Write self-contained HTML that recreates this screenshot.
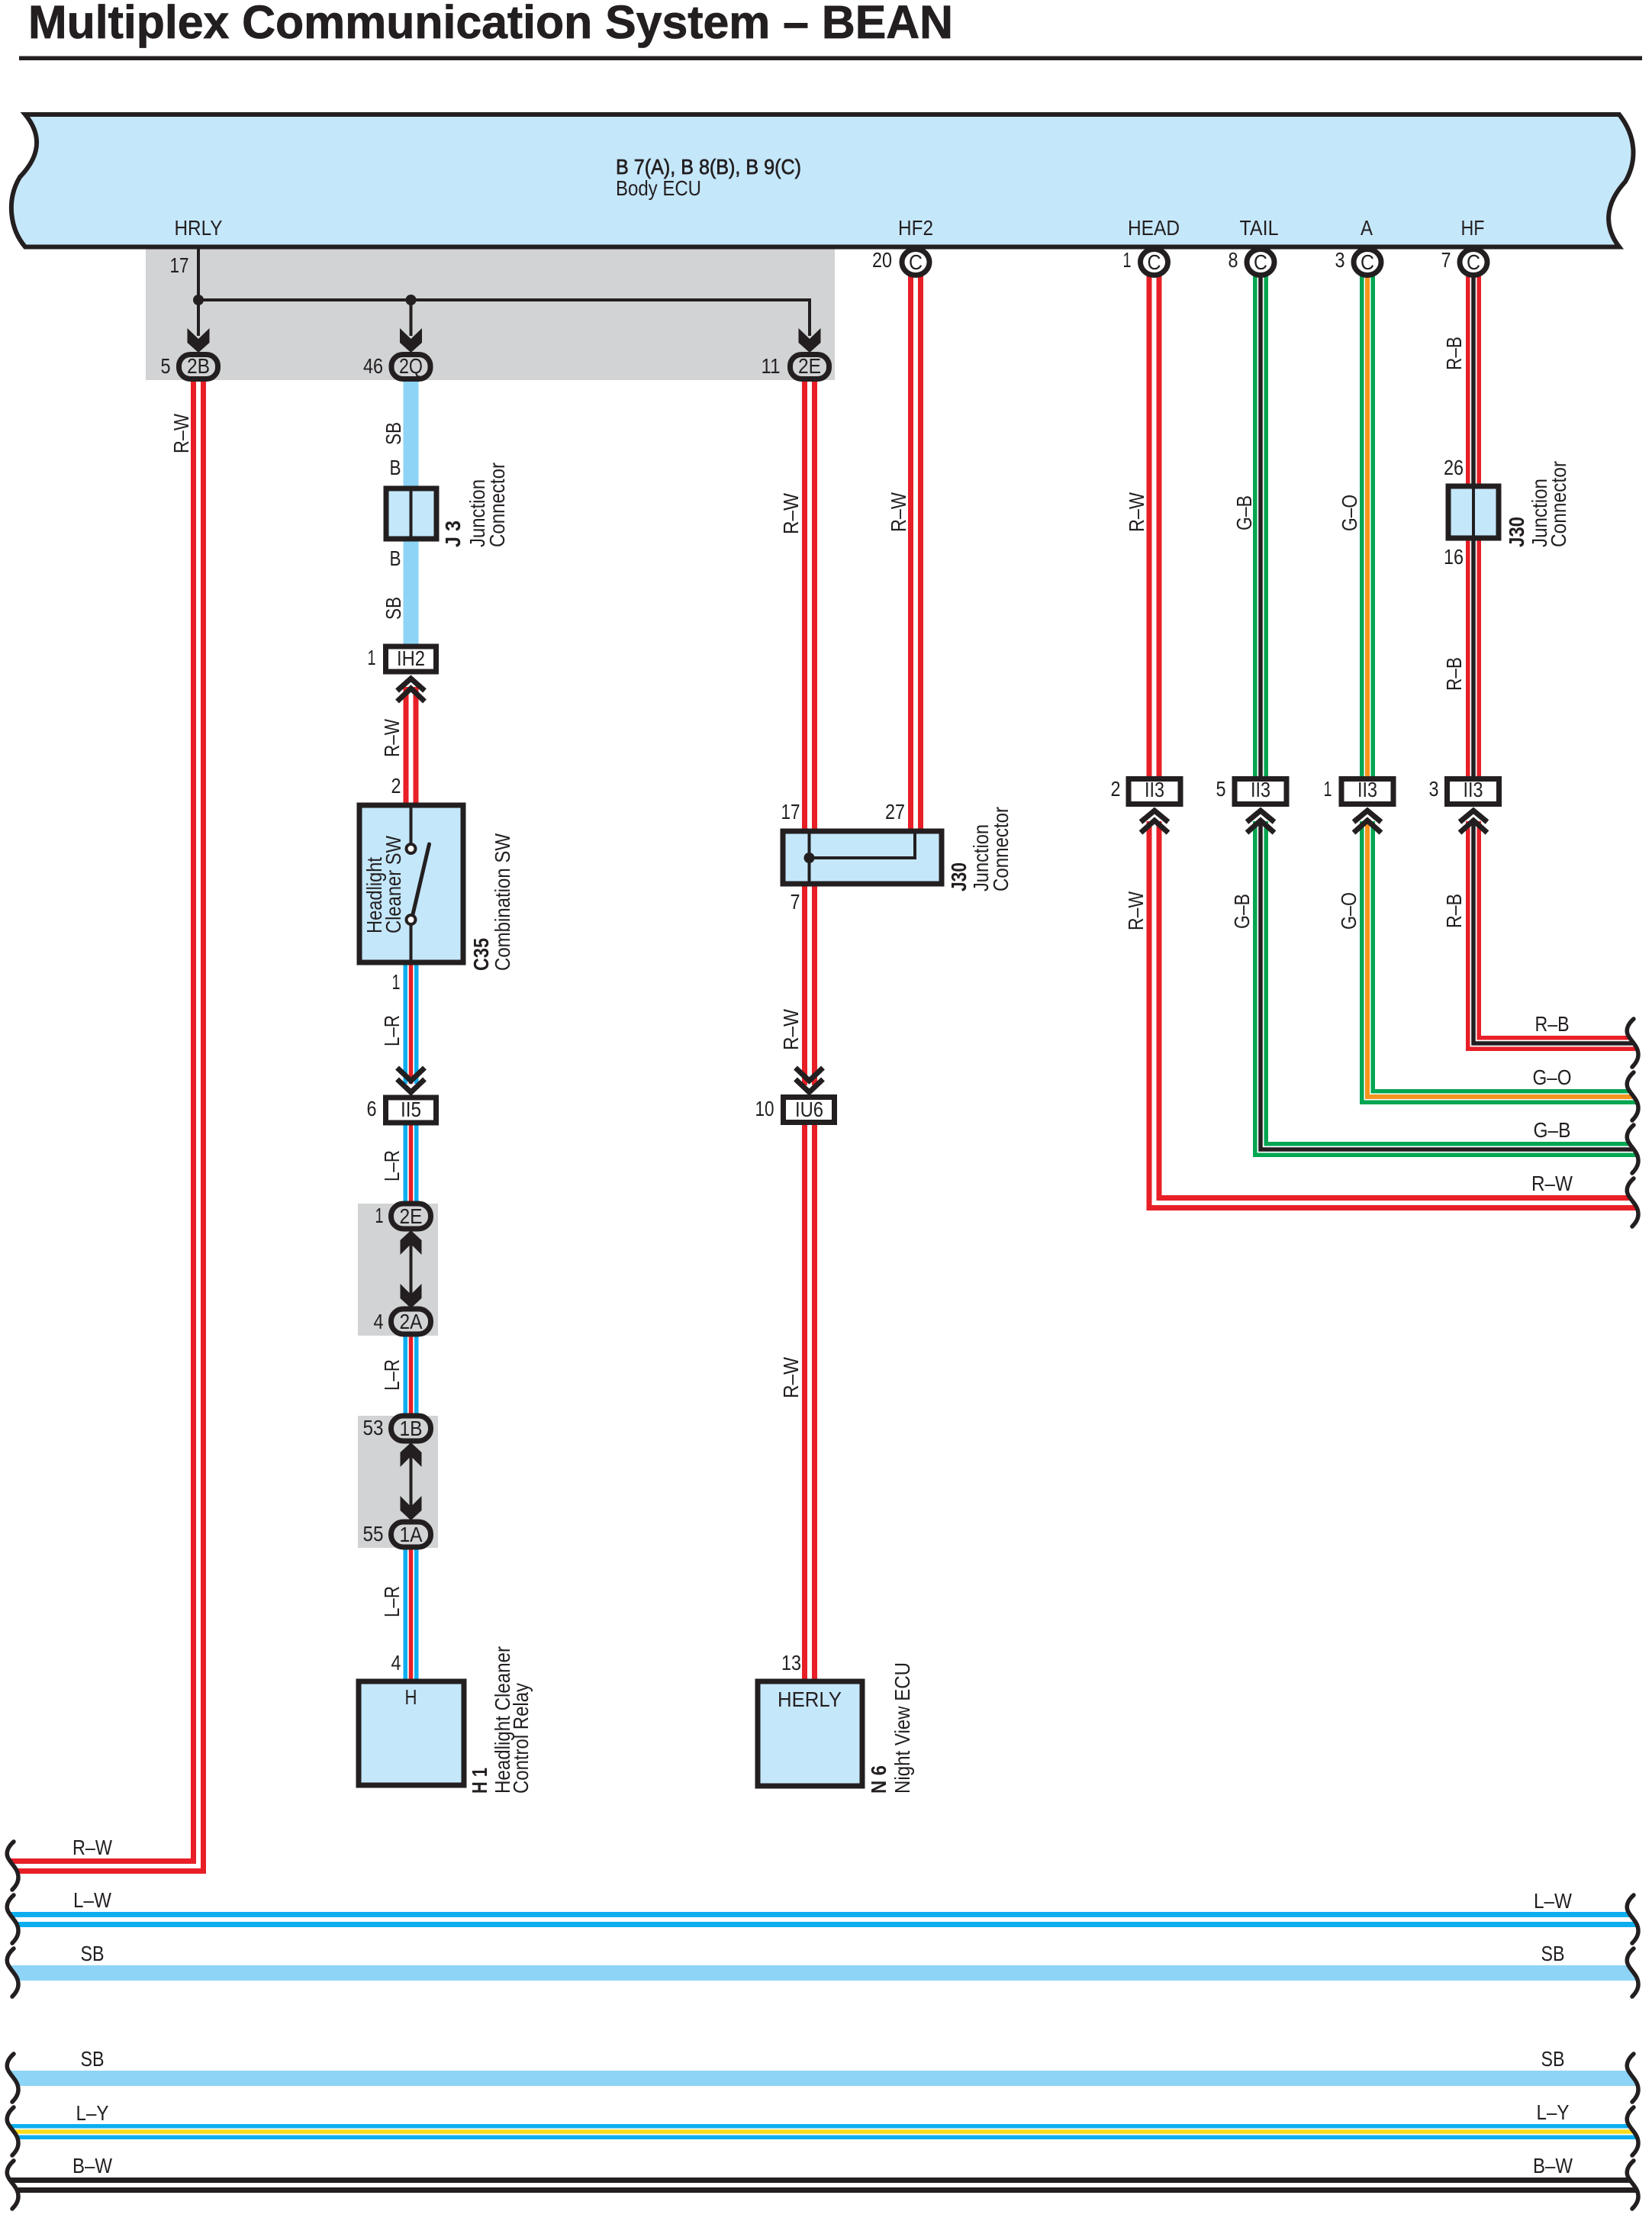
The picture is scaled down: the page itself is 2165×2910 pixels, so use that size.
<!DOCTYPE html>
<html><head><meta charset="utf-8"><title>Multiplex Communication System – BEAN</title>
<style>
html,body{margin:0;padding:0;background:#fff}
svg{display:block}
text{font-family:"Liberation Sans",sans-serif;font-size:28px;fill:#231f20}
.m{text-anchor:middle}
.b{font-weight:bold}
.r{stroke:#e81f27}.w{stroke:#fff}.k{stroke:#231f20}.g{stroke:#00a651}.o{stroke:#f7941d}.l{stroke:#0daeef}.s{stroke:#8dd4f6}.y{stroke:#f7dc1a}
.t{stroke-width:20;fill:none}.i{stroke-width:6;fill:none}.j{stroke-width:9;fill:none}.c{stroke-width:5.5;fill:none}
.box{fill:#c5e7fa;stroke:#231f20;stroke-width:7}
.wb{fill:#fff;stroke:#231f20;stroke-width:7}
.ov{fill:#d1d3d4;stroke:#231f20;stroke-width:7}
.cc{fill:#fff;stroke:#231f20;stroke-width:7}
.ln{fill:none;stroke:#231f20;stroke-width:4}
.ch{fill:none;stroke:#231f20;stroke-width:7}
.wv{fill:none;stroke:#231f20;stroke-width:5.5;stroke-linecap:round}
.cv{fill:#fff;stroke:none}
.ar{fill:#231f20}
</style></head><body>
<svg xmlns="http://www.w3.org/2000/svg" width="2165" height="2910" viewBox="0 0 2165 2910">
<rect width="2165" height="2910" fill="#fff"/>

<text x="37" y="50" class="b" style="font-size:61px" stroke="#231f20" stroke-width=".8" textLength="1212" lengthAdjust="spacingAndGlyphs">Multiplex Communication System – BEAN</text>
<rect x="25" y="73.500" width="2127" height="5.500" fill="#231f20"/>

<!-- gray splice regions -->
<rect x="191" y="324" width="903" height="174" fill="#d1d3d4"/>
<rect x="469" y="1577" width="105" height="173" fill="#d1d3d4"/>
<rect x="469" y="1855" width="105" height="173" fill="#d1d3d4"/>

<!-- ECU body -->
<path class="box" style="stroke-width:6" d="M33 150 H2122 C2144 178 2146 210 2130 238 C2108 262 2098 292 2122 323.500 H33 C13 300 8 262 26 232 C52 205 56 178 33 150 Z"/>
<text x="807" y="228" stroke="#231f20" stroke-width=".7" textLength="243" lengthAdjust="spacingAndGlyphs">B 7(A), B 8(B), B 9(C)</text>
<text x="807" y="256" textLength="112" lengthAdjust="spacingAndGlyphs">Body ECU</text>
<text x="260" y="308" class="m" textLength="63" lengthAdjust="spacingAndGlyphs">HRLY</text>
<text x="1200" y="308" class="m" textLength="46" lengthAdjust="spacingAndGlyphs">HF2</text>
<text x="1512" y="308" class="m" textLength="68" lengthAdjust="spacingAndGlyphs">HEAD</text>
<text x="1650" y="308" class="m" textLength="51" lengthAdjust="spacingAndGlyphs">TAIL</text>
<text x="1791" y="308" class="m" textLength="16" lengthAdjust="spacingAndGlyphs">A</text>
<text x="1930" y="308" class="m" textLength="31" lengthAdjust="spacingAndGlyphs">HF</text>

<!-- long vertical and routed wires -->
<g>
<path class="t r" d="M260 498V2445H4"/><path class="i w" d="M260 498V2445H4"/>
<path class="t r" d="M1200 360V1090"/><path class="i w" d="M1200 360V1090"/>
<path class="t r" d="M1061 498V1422"/><path class="i w" d="M1061 498V1422"/>
<path class="t r" d="M1061 1473V2204"/><path class="i w" d="M1061 1473V2204"/>

<path class="t r" d="M1512.500 360V1018"/><path class="i w" d="M1512.500 360V1018"/>
<path class="t r" d="M1512.500 1076V1576H2160"/><path class="i w" d="M1512.500 1076V1576H2160"/>

<path class="t g" d="M1652 360V1018"/><path class="j w" d="M1652 360V1018"/><path class="c k" d="M1652 360V1018"/>
<path class="t g" d="M1652 1076V1506H2160"/><path class="j w" d="M1652 1076V1506H2160"/><path class="c k" d="M1652 1076V1506H2160"/>

<path class="t g" d="M1792 360V1018"/><path class="j w" d="M1792 360V1018"/><path class="i o" d="M1792 360V1018"/>
<path class="t g" d="M1792 1076V1437H2160"/><path class="j w" d="M1792 1076V1437H2160"/><path class="i o" d="M1792 1076V1437H2160"/>

<path class="t r" d="M1931 360V1018"/><path class="j w" d="M1931 360V1018"/><path class="c k" d="M1931 360V1018"/>
<path class="t r" d="M1931 1076V1367H2160"/><path class="j w" d="M1931 1076V1367H2160"/><path class="c k" d="M1931 1076V1367H2160"/>

<path class="t s" d="M538.500 498V845"/>
<path class="t r" d="M538.500 900V1055"/><path d="M538.500 900V1055" class="i w"/>

<path class="t l" d="M538.500 1264V1420"/><path class="j w" d="M538.500 1264V1420"/><path class="c r" d="M538.500 1264V1420"/>
<path class="t l" d="M538.500 1473V1575"/><path class="j w" d="M538.500 1473V1575"/><path class="c r" d="M538.500 1473V1575"/>
<path class="t l" d="M538.500 1750V1853"/><path class="j w" d="M538.500 1750V1853"/><path class="c r" d="M538.500 1750V1853"/>
<path class="t l" d="M538.500 2028V2203"/><path class="j w" d="M538.500 2028V2203"/><path class="c r" d="M538.500 2028V2203"/>

<!-- bottom bus -->
<path class="t l" d="M0 2515H2165"/><path class="i w" d="M0 2515H2165"/>
<path class="t s" d="M0 2585H2165"/>
<path class="t s" d="M0 2723H2165"/>
<path class="t l" d="M0 2793H2165"/><path class="j w" d="M0 2793H2165"/><path class="c y" d="M0 2793H2165"/>
<path class="t k" d="M0 2863H2165"/><path class="i w" d="M0 2863H2165"/>
</g>

<!-- break marks: white cover + wavy line -->
<g id="brk">
<path class="cv" d="M18 2413C10 2420 7 2428 11 2435C16 2444 24 2449 24 2460C24 2467 20 2472 16 2476L0 2476V2413Z"/>
<path class="cv" d="M18 2483C10 2490 7 2498 11 2505C16 2514 24 2519 24 2530C24 2537 20 2542 16 2546L0 2546V2483Z"/>
<path class="cv" d="M18 2553C10 2560 7 2568 11 2575C16 2584 24 2589 24 2600C24 2607 20 2612 16 2616L0 2616V2553Z"/>
<path class="cv" d="M18 2691C10 2698 7 2706 11 2713C16 2722 24 2727 24 2738C24 2745 20 2750 16 2754L0 2754V2691Z"/>
<path class="cv" d="M18 2761C10 2768 7 2776 11 2783C16 2792 24 2797 24 2808C24 2815 20 2820 16 2824L0 2824V2761Z"/>
<path class="cv" d="M18 2831C10 2838 7 2846 11 2853C16 2862 24 2867 24 2878C24 2885 20 2890 16 2894L0 2894V2831Z"/>
<path class="wv" d="M18 2413C10 2420 7 2428 11 2435C16 2444 24 2449 24 2460C24 2467 20 2472 16 2476"/>
<path class="wv" d="M18 2483C10 2490 7 2498 11 2505C16 2514 24 2519 24 2530C24 2537 20 2542 16 2546"/>
<path class="wv" d="M18 2553C10 2560 7 2568 11 2575C16 2584 24 2589 24 2600C24 2607 20 2612 16 2616"/>
<path class="wv" d="M18 2691C10 2698 7 2706 11 2713C16 2722 24 2727 24 2738C24 2745 20 2750 16 2754"/>
<path class="wv" d="M18 2761C10 2768 7 2776 11 2783C16 2792 24 2797 24 2808C24 2815 20 2820 16 2824"/>
<path class="wv" d="M18 2831C10 2838 7 2846 11 2853C16 2862 24 2867 24 2878C24 2885 20 2890 16 2894"/>
</g>
<g transform="translate(2123 0)">
<path class="cv" d="M18 1335C10 1342 7 1350 11 1357C16 1366 24 1371 24 1382C24 1389 20 1394 16 1398L42 1398V1335Z"/>
<path class="cv" d="M18 1405C10 1412 7 1420 11 1427C16 1436 24 1441 24 1452C24 1459 20 1464 16 1468L42 1468V1405Z"/>
<path class="cv" d="M18 1474C10 1481 7 1489 11 1496C16 1505 24 1510 24 1521C24 1528 20 1533 16 1537L42 1537V1474Z"/>
<path class="cv" d="M18 1544C10 1551 7 1559 11 1566C16 1575 24 1580 24 1591C24 1598 20 1603 16 1607L42 1607V1544Z"/>
<path class="cv" d="M18 2483C10 2490 7 2498 11 2505C16 2514 24 2519 24 2530C24 2537 20 2542 16 2546L42 2546V2483Z"/>
<path class="cv" d="M18 2553C10 2560 7 2568 11 2575C16 2584 24 2589 24 2600C24 2607 20 2612 16 2616L42 2616V2553Z"/>
<path class="cv" d="M18 2691C10 2698 7 2706 11 2713C16 2722 24 2727 24 2738C24 2745 20 2750 16 2754L42 2754V2691Z"/>
<path class="cv" d="M18 2761C10 2768 7 2776 11 2783C16 2792 24 2797 24 2808C24 2815 20 2820 16 2824L42 2824V2761Z"/>
<path class="cv" d="M18 2831C10 2838 7 2846 11 2853C16 2862 24 2867 24 2878C24 2885 20 2890 16 2894L42 2894V2831Z"/>
<path class="wv" d="M18 1335C10 1342 7 1350 11 1357C16 1366 24 1371 24 1382C24 1389 20 1394 16 1398"/>
<path class="wv" d="M18 1405C10 1412 7 1420 11 1427C16 1436 24 1441 24 1452C24 1459 20 1464 16 1468"/>
<path class="wv" d="M18 1474C10 1481 7 1489 11 1496C16 1505 24 1510 24 1521C24 1528 20 1533 16 1537"/>
<path class="wv" d="M18 1544C10 1551 7 1559 11 1566C16 1575 24 1580 24 1591C24 1598 20 1603 16 1607"/>
<path class="wv" d="M18 2483C10 2490 7 2498 11 2505C16 2514 24 2519 24 2530C24 2537 20 2542 16 2546"/>
<path class="wv" d="M18 2553C10 2560 7 2568 11 2575C16 2584 24 2589 24 2600C24 2607 20 2612 16 2616"/>
<path class="wv" d="M18 2691C10 2698 7 2706 11 2713C16 2722 24 2727 24 2738C24 2745 20 2750 16 2754"/>
<path class="wv" d="M18 2761C10 2768 7 2776 11 2783C16 2792 24 2797 24 2808C24 2815 20 2820 16 2824"/>
<path class="wv" d="M18 2831C10 2838 7 2846 11 2853C16 2862 24 2867 24 2878C24 2885 20 2890 16 2894"/>
</g>

<!-- splice tree -->
<path class="ln" d="M260 326V440"/><path class="ln" d="M538.500 393V440"/><path class="ln" d="M260 393H1061V440"/>
<circle cx="260" cy="393" r="7" fill="#231f20"/><circle cx="538.500" cy="393" r="7" fill="#231f20"/>
<polygon class="ar" points="245.500,430 260,444 274.500,430 274.500,449 260,462 245.500,449"/>
<polygon class="ar" points="524,430 538.500,444 553,430 553,449 538.500,462 524,449"/>
<polygon class="ar" points="1046.500,430 1061,444 1075.500,430 1075.500,449 1061,462 1046.500,449"/>
<rect class="ov" x="234.500" y="464.500" width="51" height="32" rx="15"/>
<rect class="ov" x="513" y="464.500" width="51" height="32" rx="15"/>
<rect class="ov" x="1035.500" y="464.500" width="51" height="32" rx="15"/>
<text x="260" y="489" class="m" textLength="30" lengthAdjust="spacingAndGlyphs">2B</text>
<text x="538.500" y="489" class="m" textLength="31" lengthAdjust="spacingAndGlyphs">2Q</text>
<text x="1061" y="489" class="m" textLength="30" lengthAdjust="spacingAndGlyphs">2E</text>
<text x="235" y="357" class="m" textLength="25" lengthAdjust="spacingAndGlyphs">17</text>
<text x="217" y="489" class="m" textLength="13" lengthAdjust="spacingAndGlyphs">5</text>
<text x="489" y="489" class="m" textLength="26" lengthAdjust="spacingAndGlyphs">46</text>
<text x="1010" y="489" class="m" textLength="25" lengthAdjust="spacingAndGlyphs">11</text>

<!-- C pins -->
<ellipse class="cc" cx="1200" cy="343.500" rx="18" ry="17"/><ellipse class="cc" cx="1512.500" cy="343.500" rx="18" ry="17"/><ellipse class="cc" cx="1652" cy="343.500" rx="18" ry="17"/><ellipse class="cc" cx="1792" cy="343.500" rx="18" ry="17"/><ellipse class="cc" cx="1931" cy="343.500" rx="18" ry="17"/>
<text x="1200" y="353" class="m" textLength="18" lengthAdjust="spacingAndGlyphs">C</text><text x="1512.500" y="353" class="m" textLength="18" lengthAdjust="spacingAndGlyphs">C</text><text x="1652" y="353" class="m" textLength="18" lengthAdjust="spacingAndGlyphs">C</text><text x="1792" y="353" class="m" textLength="18" lengthAdjust="spacingAndGlyphs">C</text><text x="1931" y="353" class="m" textLength="18" lengthAdjust="spacingAndGlyphs">C</text>
<text x="1156" y="350" class="m" textLength="26" lengthAdjust="spacingAndGlyphs">20</text>
<text x="1477" y="350" class="m" textLength="11" lengthAdjust="spacingAndGlyphs">1</text><text x="1616" y="350" class="m" textLength="13" lengthAdjust="spacingAndGlyphs">8</text><text x="1756" y="350" class="m" textLength="13" lengthAdjust="spacingAndGlyphs">3</text><text x="1895" y="350" class="m" textLength="13" lengthAdjust="spacingAndGlyphs">7</text>

<!-- J3 -->
<rect class="box" x="506" y="640" width="66" height="66"/><path class="ln" d="M538.500 640V706"/>
<text x="518" y="622" class="m" textLength="15" lengthAdjust="spacingAndGlyphs">B</text><text x="518" y="741" class="m" textLength="15" lengthAdjust="spacingAndGlyphs">B</text>
<text transform="translate(525 583) rotate(-90)" textLength="30" lengthAdjust="spacingAndGlyphs">SB</text>
<text transform="translate(525 812) rotate(-90)" textLength="30" lengthAdjust="spacingAndGlyphs">SB</text>
<text transform="translate(603 717) rotate(-90)" class="b" textLength="35" lengthAdjust="spacingAndGlyphs">J 3</text>
<text transform="translate(635 717) rotate(-90)" textLength="89" lengthAdjust="spacingAndGlyphs">Junction</text>
<text transform="translate(661 717) rotate(-90)" textLength="111" lengthAdjust="spacingAndGlyphs">Connector</text>

<!-- J30 right -->
<rect class="box" x="1898" y="637" width="66" height="68"/><path class="ln" d="M1931 637V705"/>
<text x="1905" y="622" class="m" textLength="26" lengthAdjust="spacingAndGlyphs">26</text>
<text x="1905" y="739" class="m" textLength="26" lengthAdjust="spacingAndGlyphs">16</text>
<text transform="translate(1997 717) rotate(-90)" class="b" textLength="40" lengthAdjust="spacingAndGlyphs">J30</text>
<text transform="translate(2027 717) rotate(-90)" textLength="90" lengthAdjust="spacingAndGlyphs">Junction</text>
<text transform="translate(2052 717) rotate(-90)" textLength="113" lengthAdjust="spacingAndGlyphs">Connector</text>

<!-- IH2 -->
<rect class="wb" x="505.500" y="847" width="66" height="33"/>
<text x="538.500" y="872" class="m" textLength="37" lengthAdjust="spacingAndGlyphs">IH2</text>
<text x="487" y="871" class="m" textLength="11" lengthAdjust="spacingAndGlyphs">1</text>
<polyline class="ch" points="520.500,905 538.500,889 556.500,905"/><polyline class="ch" points="520.500,919 538.500,902 556.500,919"/>

<!-- C35 -->
<rect class="box" x="471" y="1055" width="136" height="206"/>
<path class="ln" d="M538.500 1055V1106M538.500 1211V1261"/>
<circle cx="538.500" cy="1112" r="6" fill="#fff" stroke="#231f20" stroke-width="4"/>
<circle cx="538.500" cy="1205" r="6" fill="#fff" stroke="#231f20" stroke-width="4"/>
<path d="M541 1198L562.500 1106" fill="none" stroke="#231f20" stroke-width="5" stroke-linecap="round"/>
<text transform="translate(500 1223) rotate(-90)" textLength="100" lengthAdjust="spacingAndGlyphs">Headlight</text>
<text transform="translate(525 1223) rotate(-90)" textLength="128" lengthAdjust="spacingAndGlyphs">Cleaner SW</text>
<text x="519" y="1039" class="m" textLength="13" lengthAdjust="spacingAndGlyphs">2</text><text x="519" y="1296" class="m" textLength="11" lengthAdjust="spacingAndGlyphs">1</text>
<text transform="translate(640 1272) rotate(-90)" class="b" textLength="43" lengthAdjust="spacingAndGlyphs">C35</text>
<text transform="translate(668 1272) rotate(-90)" textLength="180" lengthAdjust="spacingAndGlyphs">Combination SW</text>
<text transform="translate(523 992) rotate(-90)" textLength="50" lengthAdjust="spacingAndGlyphs">R–W</text>
<text transform="translate(523 1371) rotate(-90)" textLength="41" lengthAdjust="spacingAndGlyphs">L–R</text>

<!-- II5 -->
<polyline class="ch" points="520.500,1399 538.500,1416 556.500,1399"/><polyline class="ch" points="520.500,1414 538.500,1431 556.500,1414"/>
<rect class="wb" x="505.500" y="1438" width="66" height="33"/>
<text x="538.500" y="1463" class="m" textLength="27" lengthAdjust="spacingAndGlyphs">II5</text>
<text x="487" y="1462" class="m" textLength="13" lengthAdjust="spacingAndGlyphs">6</text>
<text transform="translate(523 1548) rotate(-90)" textLength="41" lengthAdjust="spacingAndGlyphs">L–R</text>

<!-- splices on L-R -->
<path class="ln" d="M538.500 1615V1710"/>
<polygon class="ar" points="524.500,1644 538.500,1630 552.500,1644 552.500,1625 538.500,1612 524.500,1625"/>
<polygon class="ar" points="524.500,1682 538.500,1696 552.500,1682 552.500,1701 538.500,1714 524.500,1701"/>
<rect class="ov" x="512.500" y="1577" width="52" height="33" rx="16"/>
<rect class="ov" x="512.500" y="1715" width="52" height="33" rx="16"/>
<text x="538.500" y="1603" class="m" textLength="30" lengthAdjust="spacingAndGlyphs">2E</text>
<text x="538.500" y="1741" class="m" textLength="30" lengthAdjust="spacingAndGlyphs">2A</text>
<text x="497" y="1602" class="m" textLength="11" lengthAdjust="spacingAndGlyphs">1</text><text x="496" y="1741" class="m" textLength="13" lengthAdjust="spacingAndGlyphs">4</text>
<text transform="translate(523 1822) rotate(-90)" textLength="41" lengthAdjust="spacingAndGlyphs">L–R</text>

<path class="ln" d="M538.500 1893V1990"/>
<polygon class="ar" points="524.500,1922 538.500,1908 552.500,1922 552.500,1903 538.500,1890 524.500,1903"/>
<polygon class="ar" points="524.500,1960 538.500,1974 552.500,1960 552.500,1979 538.500,1992 524.500,1979"/>
<rect class="ov" x="512.500" y="1855" width="52" height="33" rx="16"/>
<rect class="ov" x="512.500" y="1994" width="52" height="33" rx="16"/>
<text x="538.500" y="1881" class="m" textLength="30" lengthAdjust="spacingAndGlyphs">1B</text>
<text x="538.500" y="2020" class="m" textLength="30" lengthAdjust="spacingAndGlyphs">1A</text>
<text x="489" y="1880" class="m" textLength="27" lengthAdjust="spacingAndGlyphs">53</text>
<text x="489" y="2019" class="m" textLength="27" lengthAdjust="spacingAndGlyphs">55</text>
<text transform="translate(523 2119) rotate(-90)" textLength="41" lengthAdjust="spacingAndGlyphs">L–R</text>

<!-- H1 -->
<rect class="box" x="470" y="2203" width="138" height="136"/>
<text x="538.500" y="2233" class="m" textLength="16" lengthAdjust="spacingAndGlyphs">H</text>
<text x="519" y="2188" class="m" textLength="13" lengthAdjust="spacingAndGlyphs">4</text>
<text transform="translate(638 2350) rotate(-90)" class="b" textLength="34" lengthAdjust="spacingAndGlyphs">H 1</text>
<text transform="translate(668 2350) rotate(-90)" textLength="193" lengthAdjust="spacingAndGlyphs">Headlight Cleaner</text>
<text transform="translate(692 2350) rotate(-90)" textLength="145" lengthAdjust="spacingAndGlyphs">Control Relay</text>

<!-- first wire label -->
<text transform="translate(247 594) rotate(-90)" textLength="52" lengthAdjust="spacingAndGlyphs">R–W</text>

<!-- center column -->
<text transform="translate(1046 700) rotate(-90)" textLength="54" lengthAdjust="spacingAndGlyphs">R–W</text>
<text transform="translate(1187 697) rotate(-90)" textLength="52" lengthAdjust="spacingAndGlyphs">R–W</text>
<rect class="box" x="1026" y="1089" width="208" height="69"/>
<path class="ln" d="M1060.500 1089V1158M1060.500 1124H1199V1089"/>
<circle cx="1060.500" cy="1124" r="7" fill="#231f20"/>
<text x="1036" y="1073" class="m" textLength="25" lengthAdjust="spacingAndGlyphs">17</text>
<text x="1173" y="1073" class="m" textLength="26" lengthAdjust="spacingAndGlyphs">27</text>
<text x="1042" y="1191" class="m" textLength="13" lengthAdjust="spacingAndGlyphs">7</text>
<text transform="translate(1266 1168) rotate(-90)" class="b" textLength="38" lengthAdjust="spacingAndGlyphs">J30</text>
<text transform="translate(1295 1168) rotate(-90)" textLength="88" lengthAdjust="spacingAndGlyphs">Junction</text>
<text transform="translate(1321 1168) rotate(-90)" textLength="111" lengthAdjust="spacingAndGlyphs">Connector</text>
<text transform="translate(1046 1376) rotate(-90)" textLength="54" lengthAdjust="spacingAndGlyphs">R–W</text>
<polyline class="ch" points="1042.500,1399 1060.500,1416 1078.500,1399"/><polyline class="ch" points="1042.500,1414 1060.500,1431 1078.500,1414"/>
<rect class="wb" x="1026.500" y="1437.500" width="67" height="33"/>
<text x="1060.500" y="1463" class="m" textLength="37" lengthAdjust="spacingAndGlyphs">IU6</text>
<text x="1002" y="1462" class="m" textLength="25" lengthAdjust="spacingAndGlyphs">10</text>
<text transform="translate(1046 1832) rotate(-90)" textLength="54" lengthAdjust="spacingAndGlyphs">R–W</text>
<rect class="box" x="993" y="2203" width="137" height="137"/>
<text x="1061" y="2236" class="m" textLength="84" lengthAdjust="spacingAndGlyphs">HERLY</text>
<text x="1037" y="2188" class="m" textLength="26" lengthAdjust="spacingAndGlyphs">13</text>
<text transform="translate(1161 2350) rotate(-90)" class="b" textLength="37" lengthAdjust="spacingAndGlyphs">N 6</text>
<text transform="translate(1192 2350) rotate(-90)" textLength="172" lengthAdjust="spacingAndGlyphs">Night View ECU</text>

<!-- right column labels -->
<text transform="translate(1499 697) rotate(-90)" textLength="52" lengthAdjust="spacingAndGlyphs">R–W</text>
<text transform="translate(1640 695) rotate(-90)" textLength="46" lengthAdjust="spacingAndGlyphs">G–B</text>
<text transform="translate(1778 696) rotate(-90)" textLength="48" lengthAdjust="spacingAndGlyphs">G–O</text>
<text transform="translate(1915 485) rotate(-90)" textLength="44" lengthAdjust="spacingAndGlyphs">R–B</text>
<text transform="translate(1915 905) rotate(-90)" textLength="44" lengthAdjust="spacingAndGlyphs">R–B</text>

<text transform="translate(1498 1219) rotate(-90)" textLength="51" lengthAdjust="spacingAndGlyphs">R–W</text>
<text transform="translate(1637 1217) rotate(-90)" textLength="46" lengthAdjust="spacingAndGlyphs">G–B</text>
<text transform="translate(1777 1218) rotate(-90)" textLength="49" lengthAdjust="spacingAndGlyphs">G–O</text>
<text transform="translate(1915 1216) rotate(-90)" textLength="45" lengthAdjust="spacingAndGlyphs">R–B</text>

<!-- II3 row -->
<rect class="wb" x="1479" y="1020.500" width="68" height="33"/><rect class="wb" x="1618" y="1020.500" width="68" height="33"/><rect class="wb" x="1758" y="1020.500" width="68" height="33"/><rect class="wb" x="1896.500" y="1020.500" width="68" height="33"/>
<text x="1513" y="1044" class="m" textLength="26" lengthAdjust="spacingAndGlyphs">II3</text><text x="1652" y="1044" class="m" textLength="26" lengthAdjust="spacingAndGlyphs">II3</text><text x="1792" y="1044" class="m" textLength="26" lengthAdjust="spacingAndGlyphs">II3</text><text x="1930.500" y="1044" class="m" textLength="26" lengthAdjust="spacingAndGlyphs">II3</text>
<text x="1462" y="1043" class="m" textLength="13" lengthAdjust="spacingAndGlyphs">2</text><text x="1600" y="1043" class="m" textLength="13" lengthAdjust="spacingAndGlyphs">5</text><text x="1740" y="1043" class="m" textLength="11" lengthAdjust="spacingAndGlyphs">1</text><text x="1879" y="1043" class="m" textLength="13" lengthAdjust="spacingAndGlyphs">3</text>
<polyline class="ch" points="1495,1077 1513,1062 1531,1077"/><polyline class="ch" points="1495,1091 1513,1075 1531,1091"/>
<polyline class="ch" points="1634,1077 1652,1062 1670,1077"/><polyline class="ch" points="1634,1091 1652,1075 1670,1091"/>
<polyline class="ch" points="1774,1077 1792,1062 1810,1077"/><polyline class="ch" points="1774,1091 1792,1075 1810,1091"/>
<polyline class="ch" points="1913,1077 1931,1062 1949,1077"/><polyline class="ch" points="1913,1091 1931,1075 1949,1091"/>

<!-- right horizontal labels -->
<text x="2034" y="1351" class="m" textLength="45" lengthAdjust="spacingAndGlyphs">R–B</text>
<text x="2034" y="1421" class="m" textLength="51" lengthAdjust="spacingAndGlyphs">G–O</text>
<text x="2034" y="1490" class="m" textLength="49" lengthAdjust="spacingAndGlyphs">G–B</text>
<text x="2034" y="1560" class="m" textLength="54" lengthAdjust="spacingAndGlyphs">R–W</text>

<!-- bottom labels -->
<text x="121" y="2430" class="m" textLength="52" lengthAdjust="spacingAndGlyphs">R–W</text>
<text x="121" y="2499" class="m" textLength="50" lengthAdjust="spacingAndGlyphs">L–W</text>
<text x="121" y="2569" class="m" textLength="31" lengthAdjust="spacingAndGlyphs">SB</text>
<text x="121" y="2707" class="m" textLength="31" lengthAdjust="spacingAndGlyphs">SB</text>
<text x="121" y="2778" class="m" textLength="43" lengthAdjust="spacingAndGlyphs">L–Y</text>
<text x="121" y="2847" class="m" textLength="52" lengthAdjust="spacingAndGlyphs">B–W</text>
<text x="2035" y="2500" class="m" textLength="50" lengthAdjust="spacingAndGlyphs">L–W</text>
<text x="2035" y="2569" class="m" textLength="31" lengthAdjust="spacingAndGlyphs">SB</text>
<text x="2035" y="2707" class="m" textLength="31" lengthAdjust="spacingAndGlyphs">SB</text>
<text x="2035" y="2777" class="m" textLength="43" lengthAdjust="spacingAndGlyphs">L–Y</text>
<text x="2035" y="2847" class="m" textLength="52" lengthAdjust="spacingAndGlyphs">B–W</text>
</svg>
</body></html>
